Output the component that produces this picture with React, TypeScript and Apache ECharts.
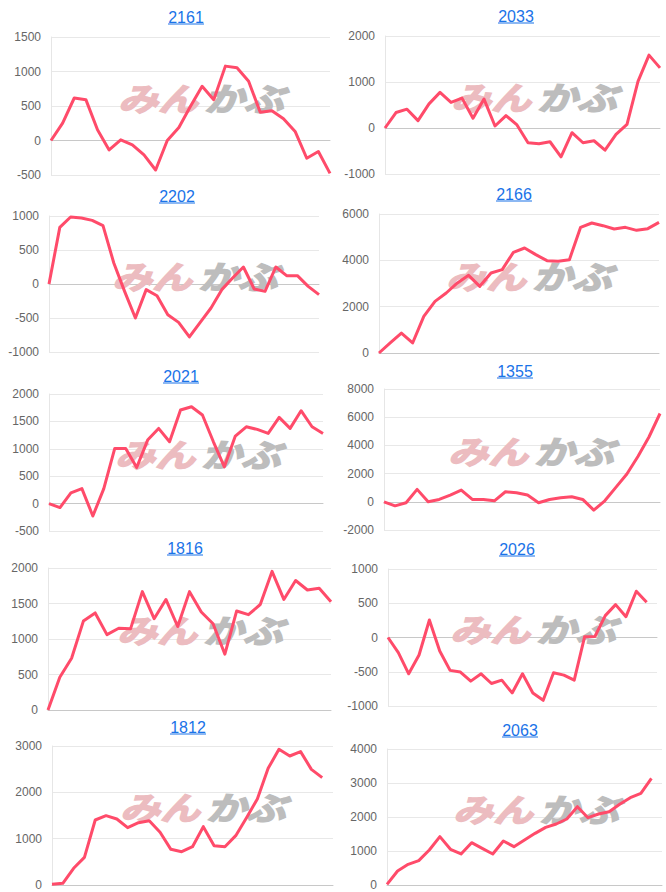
import React, { useEffect, useRef } from "react";
import * as echarts from "echarts";

const titles = ["2161", "2033", "2202", "2166", "2021", "1355", "1816", "2026", "1812", "2063"];

const s2161 = [0, 252, 616, 592, 155, -136, 10, -63, -209, -427, 0, 189, 495, 786, 592, 1078, 1053, 859, 408, 432, 315, 131, -257, -160, -476];
const s2033 = [0, 336, 409, 160, 525, 774, 555, 650, 212, 628, 44, 270, 66, -321, -343, -299, -628, -102, -321, -277, -482, -139, 80, 1015, 1584, 1307];
const s2202 = [0, 833, 985, 970, 936, 858, 309, -108, -500, -83, -172, -451, -564, -779, -564, -353, -83, 88, 250, -74, -108, 250, 123, 123, -34, -157];
const s2166 = [0, 432, 863, 432, 1583, 2230, 2590, 3022, 3353, 2878, 3453, 3597, 4345, 4532, 4245, 3986, 3957, 4029, 5424, 5611, 5496, 5352, 5424, 5295, 5367, 5640];
const s2021 = [0, -73, 195, 274, -226, 274, 1006, 1006, 659, 1159, 1372, 1128, 1707, 1768, 1616, 1128, 671, 1232, 1402, 1354, 1280, 1573, 1372, 1695, 1402, 1280];
const s1355 = [0, -286, -71, 881, 0, 167, 476, 833, 167, 167, 71, 714, 643, 476, -71, 167, 286, 357, 167, -595, 71, 1024, 1976, 3214, 4595, 6262];
const s1816 = [0, 462, 729, 1252, 1367, 1062, 1152, 1143, 1667, 1286, 1557, 1176, 1667, 1381, 1214, 786, 1395, 1343, 1486, 1952, 1557, 1824, 1690, 1714, 1524];
const s2026 = [0, -220, -530, -255, 255, -196, -480, -505, -637, -530, -672, -623, -809, -530, -809, -917, -515, -549, -623, 10, 15, 319, 480, 304, 676, 515];
const s1812 = [14, 36, 360, 597, 1403, 1496, 1424, 1237, 1345, 1388, 1137, 770, 719, 827, 1259, 849, 827, 1065, 1453, 1856, 2518, 2928, 2784, 2878, 2496, 2317];
const s2063 = [20, 412, 608, 716, 1029, 1422, 1049, 912, 1245, 1078, 912, 1294, 1127, 1324, 1520, 1696, 1794, 1941, 2304, 1980, 2088, 2157, 2373, 2569, 2696, 3137];

const seriesValues = [s2161, s2033, s2202, s2166, s2021, s1355, s1816, s2026, s1812, s2063];
const categoryCounts = [25, 26, 26, 26, 26, 26, 25, 27, 27, 27];
const yMins = [-500, -1000, -1000, 0, -500, -2000, 0, -1000, 0, 0];
const yMaxs = [1500, 2000, 1000, 6000, 2000, 8000, 2000, 1000, 3000, 4000];
const ySteps = [500, 1000, 500, 2000, 500, 2000, 500, 500, 1000, 1000];

const layout = [
  { l: 51, r: 330, t: 37, b: 175, tx: 186, ty: 17, wx: 118, wy: 97 },
  { l: 385, r: 660, t: 36, b: 174, tx: 516, ty: 16, wx: 451, wy: 96 },
  { l: 49, r: 319, t: 216, b: 352, tx: 177, ty: 196, wx: 112, wy: 275 },
  { l: 379, r: 659, t: 214, b: 353, tx: 514, ty: 194, wx: 446, wy: 275 },
  { l: 49, r: 323, t: 394, b: 531, tx: 181, ty: 376, wx: 115, wy: 453 },
  { l: 384, r: 660, t: 389, b: 530, tx: 515, ty: 371, wx: 448, wy: 450 },
  { l: 48, r: 331, t: 568, b: 710, tx: 185, ty: 548, wx: 117, wy: 629 },
  { l: 388, r: 657, t: 569, b: 706, tx: 517, ty: 549, wx: 450, wy: 628 },
  { l: 52, r: 333, t: 746, b: 885, tx: 188, ty: 727, wx: 120, wy: 806 },
  { l: 387, r: 662, t: 749, b: 885, tx: 520, ty: 730, wx: 453, wy: 808 },
];

const LINE_COLOR = "#ff4b6a";
const TITLE_COLOR = "#1a73e8";
const FONT = "'Liberation Sans', Arial, sans-serif";

export default function App() {
  const ref = useRef<HTMLDivElement>(null);
  useEffect(() => {
    if (!ref.current) return;
    const chart = echarts.init(ref.current, undefined, { renderer: "svg" });
    const grids: any[] = [];
    const xAxes: any[] = [];
    const yAxes: any[] = [];
    const series: any[] = [];
    const graphics: any[] = [];
    layout.forEach((p, i) => {
      grids.push({ left: p.l, top: p.t, width: p.r - p.l, height: p.b - p.t, containLabel: false });
      const cats = Array.from({ length: categoryCounts[i] }, (_, k) => String(k + 1));
      xAxes.push({
        type: "category",
        gridIndex: i,
        data: cats,
        boundaryGap: false,
        axisLine: { show: true, onZero: true, lineStyle: { color: "#c8c8c8", width: 1 } },
        axisTick: { show: false },
        axisLabel: { show: false },
        splitLine: { show: false },
      });
      yAxes.push({
        type: "value",
        gridIndex: i,
        min: yMins[i],
        max: yMaxs[i],
        interval: ySteps[i],
        axisLine: { show: true, lineStyle: { color: "#e6e6e6", width: 1 } },
        axisTick: { show: false },
        axisLabel: {
          color: "#666",
          fontSize: 12,
          fontFamily: FONT,
          margin: 10,
          formatter: (v: number) => String(v),
        },
        splitLine: { show: true, lineStyle: { color: "#e8e8e8", width: 1 } },
      });
      series.push({
        type: "line",
        xAxisIndex: i,
        yAxisIndex: i,
        data: seriesValues[i],
        symbol: "none",
        smooth: false,
        z: 5,
        lineStyle: { color: LINE_COLOR, width: 3, join: "round" },
      });
      graphics.push({
        type: "text",
        x: p.wx,
        y: p.wy,
        z: 1,
        scaleX: 1.25,
        style: {
          text: "みん",
          font: "italic bold 32px 'Noto Sans CJK JP'",
          fill: "#ecbcc0",
          stroke: "#ecbcc0",
          lineWidth: 1.5,
          textVerticalAlign: "middle",
          textAlign: "left",
        },
      });
      graphics.push({
        type: "text",
        x: p.wx + 86,
        y: p.wy,
        z: 1,
        scaleX: 1.25,
        style: {
          text: "かぶ",
          font: "italic bold 32px 'Noto Sans CJK JP'",
          fill: "#bdbdbd",
          stroke: "#bdbdbd",
          lineWidth: 1.5,
          textVerticalAlign: "middle",
          textAlign: "left",
        },
      });
      graphics.push({
        type: "text",
        x: p.tx,
        y: p.ty,
        z: 3,
        style: {
          text: titles[i],
          font: `16px ${FONT}`,
          fill: TITLE_COLOR,
          textAlign: "center",
          textVerticalAlign: "middle",
        },
      });
      graphics.push({
        type: "rect",
        z: 3,
        shape: { x: p.tx - 18, y: p.ty + 6.5, width: 36, height: 1 },
        style: { fill: TITLE_COLOR },
      });
    });
    chart.setOption({
      animation: false,
      grid: grids,
      xAxis: xAxes,
      yAxis: yAxes,
      series,
      graphic: graphics,
    });
    return () => chart.dispose();
  }, []);
  return (
    <div
      ref={ref}
      style={{ position: "absolute", left: 0, top: 0, width: 666, height: 892, background: "#fff" }}
    />
  );
}
